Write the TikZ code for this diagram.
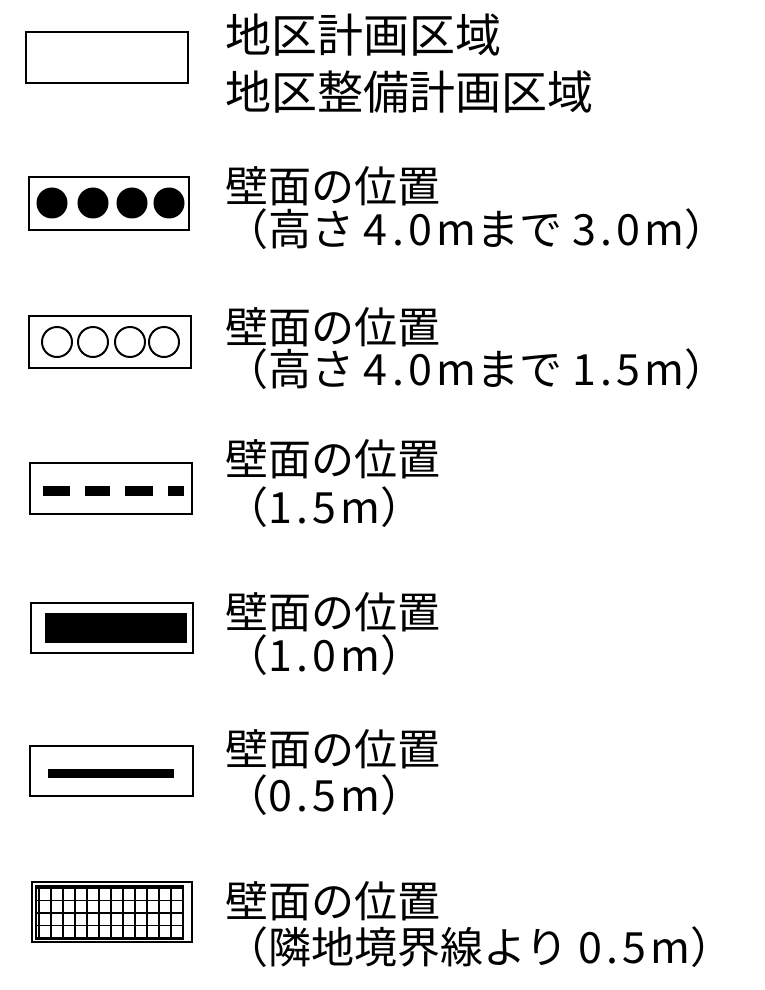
\documentclass[tikz,border=0pt]{standalone}
\usepackage{fontspec}
\usepackage{tikz}
\newfontfamily\jpfont{Noto Sans CJK JP}
\newfontfamily\jpwide[LetterSpace=10]{Noto Sans CJK JP}
\newcommand{\lat}[1]{{\jpwide #1}}
\tikzset{
  legendbox/.style={draw, line width=1.6pt},
  legendtext/.style={font=\jpfont\fontsize{30.6pt}{36pt}\selectfont, anchor=base west, inner sep=0pt},
  titletext/.style={legendtext, font=\jpfont\fontsize{32.7pt}{38pt}\selectfont},
  gridline/.style={line width=0.9pt}
}

\begin{document}
\begin{tikzpicture}[x=0.025cm,y=-0.025cm]
        \useasboundingbox (0,0) rectangle (764,990);
        % area boundary
        \draw[legendbox] (26,32) rectangle (188,83);
        \node[titletext] (area1) at (225,53) {地区計画区域};
        \node[titletext] (area2) at (225,110) {地区整備計画区域};
        % filled circles
        \draw[legendbox] (29,177) rectangle (189,230);
        \foreach \x in {52,93,132,169}
          \fill (\x,203) circle (15.5);
        \node[legendtext] (wallA1) at (225,203) {壁面の位置};
        \node[legendtext] (wallA2) at (225,246) {（高さ \lat{4.0m}まで \lat{3.0m}）};
        % open circles
        \draw[legendbox] (29,316) rectangle (191,368);
        \foreach \x in {57,93,130,164}
          \draw[line width=1.4pt] (\x,342) circle (15);
        \node[legendtext] (wallB1) at (225,343) {壁面の位置};
        \node[legendtext] (wallB2) at (225,385) {（高さ \lat{4.0m}まで \lat{1.5m}）};
        % dashes
        \draw[legendbox] (30,463) rectangle (192,514);
        \foreach \a/\b in {43/70,85/110,125/153,168/184}
          \fill (\a,486) rectangle (\b,496);
        \node[legendtext] (wallC1) at (225,475) {壁面の位置};
        \node[legendtext] (wallC2) at (225,523) {（\lat{1.5m}）};
        % wide bar
        \draw[legendbox] (31,603) rectangle (193,653);
        \fill (45,613) rectangle (187,643);
        \node[legendtext] (wallD1) at (225,628) {壁面の位置};
        \node[legendtext] (wallD2) at (225,671) {（\lat{1.0m}）};
        % thin bar
        \draw[legendbox] (30,746) rectangle (193,796);
        \fill (48,769) rectangle (174,778);
        \node[legendtext] (wallE1) at (225,765) {壁面の位置};
        \node[legendtext] (wallE2) at (225,811) {（\lat{0.5m}）};
        % grid
        \draw[legendbox] (32,882) rectangle (192,942);
        \draw[gridline] (36,886) rectangle (183,939);
        \foreach \x in {39,51,...,183}
          \draw[gridline] (\x,886) -- (\x,939);
        \foreach \y in {888,900.5,913,925.5,938}
          \draw[gridline] (36,\y) -- (183,\y);
        \node[legendtext] (wallF1) at (225,917) {壁面の位置};
        \node[legendtext] (wallF2) at (225,963) {（隣地境界線より \lat{0.5m}）};
       \end{tikzpicture}
\end{document}
